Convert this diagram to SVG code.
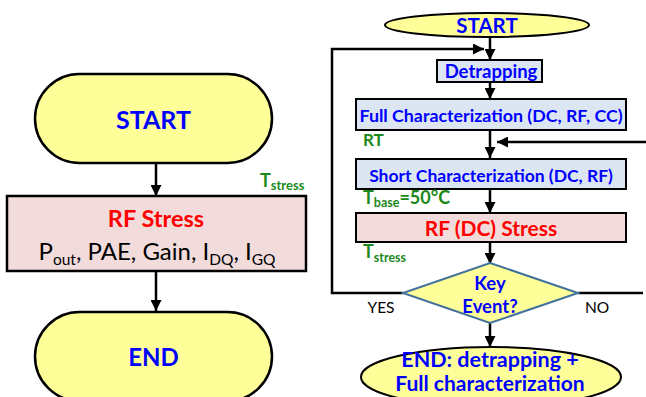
<svg xmlns="http://www.w3.org/2000/svg" width="646" height="397" viewBox="0 0 646 397">
<defs>
<style>
.t{font-family:Lato,"Liberation Sans",sans-serif}
.b{font-weight:bold}
.blue{fill:#0000ff}
.red{fill:#ff0000}
.green{fill:#1b8a1b;font-weight:bold}
.blk{fill:#000}
.term{fill:#ffff99;stroke:#000;stroke-width:2.5}
.pink{fill:#f2dcdb;stroke:#000;stroke-width:2.5}
.lb{fill:#dce6f2;stroke:#000;stroke-width:2.5}
.ln{fill:none;stroke:#000;stroke-width:2.5}
</style>
<marker id="ah" viewBox="0 0 10 10" refX="10" refY="5" markerWidth="4.4" markerHeight="4.4" orient="auto" markerUnits="strokeWidth">
<path d="M0,0 L10,5 L0,10 Z" fill="#000"/>
</marker>
</defs>
<rect width="646" height="397" fill="#fff"/>

<g id="connectors">
<line class="ln" x1="156" y1="163" x2="156" y2="196" marker-end="url(#ah)"/>
<line class="ln" x1="156" y1="271" x2="156" y2="311" marker-end="url(#ah)"/>
<line class="ln" x1="490" y1="37" x2="490" y2="60" marker-end="url(#ah)"/>
<polyline class="ln" points="403,293 332,293 332,49 484,49" marker-end="url(#ah)"/>
<line class="ln" x1="490" y1="82" x2="490" y2="99" marker-end="url(#ah)"/>
<line class="ln" x1="490" y1="130" x2="490" y2="158" marker-end="url(#ah)"/>
<polyline class="ln" points="578,293 643,293"/>
<line class="ln" x1="648" y1="142" x2="497" y2="142" marker-end="url(#ah)"/>
<line class="ln" x1="490" y1="189" x2="490" y2="213" marker-end="url(#ah)"/>
<line class="ln" x1="490" y1="242" x2="490" y2="264" marker-end="url(#ah)"/>
<line class="ln" x1="490" y1="323" x2="490" y2="347" marker-end="url(#ah)"/>
</g>

<g id="left-start">
<rect class="term" x="35" y="74" width="237" height="89" rx="44.5"/>
<text class="t b blue" x="153.5" y="129" font-size="25" text-anchor="middle">START</text>
</g>
<g id="left-tstress">
<text class="t green" x="260" y="187" font-size="18">T<tspan font-size="13" dy="3">stress</tspan></text>
</g>
<g id="left-rfstress">
<rect class="pink" x="7" y="196" width="299" height="75"/>
<text class="t b red" x="156" y="227" font-size="23.5" text-anchor="middle">RF Stress</text>
<text class="t blk" x="157" y="260" font-size="24" text-anchor="middle">P<tspan font-size="15.5" dy="5">out</tspan><tspan dy="-5">, PAE, Gain, I</tspan><tspan font-size="15.5" dy="5">DQ</tspan><tspan dy="-5">, I</tspan><tspan font-size="15.5" dy="5">GQ</tspan></text>
</g>
<g id="left-end">
<rect class="term" x="35" y="312" width="237" height="89" rx="44.5"/>
<text class="t b blue" x="153.5" y="366" font-size="24" text-anchor="middle">END</text>
</g>

<g id="right-start">
<ellipse class="term" cx="487" cy="25" rx="102" ry="12" style="stroke-width:2"/>
<text class="t b blue" x="487" y="33" font-size="20.5" text-anchor="middle">START</text>
</g>
<g id="detrapping">
<rect class="lb" x="437" y="60" width="105" height="22" style="stroke-width:2"/>
<text class="t b blue" x="491" y="78" font-size="18.5" text-anchor="middle">Detrapping</text>
</g>
<g id="full-char">
<rect class="lb" x="356" y="99" width="270" height="31" style="stroke-width:2"/>
<text class="t b blue" x="491" y="122" font-size="17.8" text-anchor="middle">Full Characterization (DC, RF, CC)</text>
</g>
<g id="rt-label">
<text class="t green" x="363" y="146" font-size="17">RT</text>
</g>
<g id="short-char">
<rect class="lb" x="356" y="159" width="270" height="30" style="stroke-width:2"/>
<text class="t b blue" x="491" y="182" font-size="17.5" text-anchor="middle">Short Characterization (DC, RF)</text>
</g>
<g id="tbase-label">
<text class="t green" x="363" y="204" font-size="18">T<tspan font-size="12.5" dy="3">base</tspan><tspan dy="-3">=50°C</tspan></text>
</g>
<g id="rf-dc-stress">
<rect class="pink" x="356" y="213" width="270" height="29" style="stroke-width:2"/>
<text class="t b red" x="491" y="236" font-size="21" text-anchor="middle">RF (DC) Stress</text>
</g>
<g id="tstress-right">
<text class="t green" x="363" y="258" font-size="18">T<tspan font-size="12.5" dy="4">stress</tspan></text>
</g>
<g id="key-event">
<polygon points="490,263 578,293 490,323 403,293" fill="#ffff99" stroke="#41719c" stroke-width="2"/>
<text class="t b blue" x="490" y="290" font-size="18.5" text-anchor="middle">Key</text>
<text class="t b blue" x="490" y="313" font-size="18.5" text-anchor="middle">Event?</text>
</g>
<g id="yes-label"><text class="t blk" x="381" y="313" font-size="15.5" text-anchor="middle">YES</text></g>
<g id="no-label"><text class="t blk" x="597" y="313" font-size="15.5" text-anchor="middle">NO</text></g>
<g id="right-end">
<ellipse class="term" cx="491" cy="377" rx="130" ry="30" style="stroke-width:2"/>
<text class="t b blue" x="490" y="367" font-size="21.5" text-anchor="middle">END: detrapping +</text>
<text class="t b blue" x="490" y="391" font-size="21" text-anchor="middle">Full characterization</text>
</g>
</svg>
